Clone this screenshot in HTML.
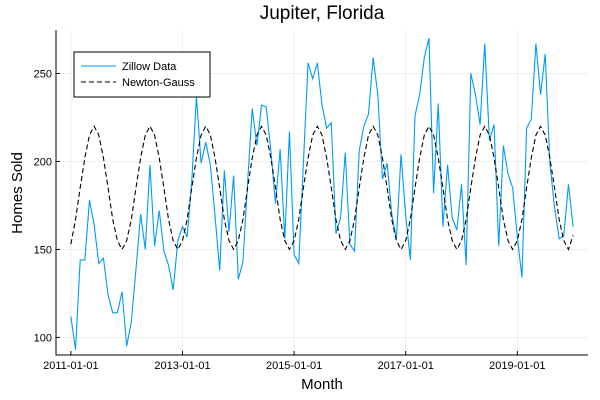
<!DOCTYPE html>
<html><head><meta charset="utf-8"><style>
body{margin:0;background:#fff;}
svg{display:block;font-family:"Liberation Sans",sans-serif;}
</style></head><body>
<svg id="chart" width="600" height="400"></svg>
<script>
const xTickLabels=["2011-01-01","2013-01-01","2015-01-01","2017-01-01","2019-01-01"];
const xTickMonths=[0,24,48,72,96];
const yTicks=[100,150,200,250];
const zillow=[112,93,144,144,178,164,142,145,124,114,114,126,95,109,139,170,150,198,152,172,149,141,127,155,163,157,189,237,199,211,198,169,138,195,160,192,
133,143,188,230,209,232,231,206,176,207,156,217,147,142,199,256,247,256,232,219,222,159,168,205,153,149,206,220,227,259,238,190,199,170,156,204,
169,144,226,238,259,270,182,233,163,198,168,161,187,141,250,238,221,267,212,221,152,209,193,185,157,134,219,224,267,238,261,199,174,156,158,187,163];
const fit=[153,167,185,202,215,220,215,202,185,167,155,150,
155,167,185,202,215,220,215,202,185,167,155,150,
155,167,185,202,215,220,215,202,185,167,155,150,
155,167,185,202,215,220,215,202,185,167,155,150,
155,167,185,202,215,220,215,202,185,167,155,150,
155,167,185,202,215,220,215,202,185,167,155,150,
155,167,185,202,215,220,215,202,185,167,155,150,
155,167,185,202,215,220,215,202,185,167,155,150,
155,167,185,202,215,220,215,202,185,167,155,150,158];
const L=56,R=588,T=30,B=355;
const xMin=-3.2,xMax=111.2,yMin=90,yMax=274.7;
const sx=m=>L+(m-xMin)/(xMax-xMin)*(R-L);
const sy=v=>B-(v-yMin)/(yMax-yMin)*(B-T);
const NS="http://www.w3.org/2000/svg";
const svg=document.getElementById('chart');
function mk(tag,attrs,parent){const e=document.createElementNS(NS,tag);for(const k in attrs)e.setAttribute(k,attrs[k]);(parent||svg).appendChild(e);return e;}
xTickMonths.forEach((m,i)=>{
 const g=mk('line',{x1:sx(m),x2:sx(m),y1:T,y2:B,stroke:'#000','stroke-opacity':0.1,'stroke-width':0.6});
 
 
 const t=mk('line',{x1:sx(m),x2:sx(m),y1:B,y2:B-4,stroke:'#000','stroke-width':1});
 
 
 const lb=mk('text',{x:sx(m),y:B+14,'text-anchor':'middle','font-size':11,fill:'#000'});
 lb.textContent=xTickLabels[i];
 
 
});
yTicks.forEach(v=>{
 const g=mk('line',{x1:L,x2:R,y1:sy(v),y2:sy(v),stroke:'#000','stroke-opacity':0.1,'stroke-width':0.6});
 
 
 const t=mk('line',{x1:L,x2:L+4,y1:sy(v),y2:sy(v),stroke:'#000','stroke-width':1});
 
 
 const lb=mk('text',{x:L-4,y:sy(v)+4,'text-anchor':'end','font-size':11,fill:'#000'});
 lb.textContent=v;
 
 
});
const ax=mk('path',{d:`M${L},${T} L${L},${B} L${R},${B}`,fill:'none',stroke:'#000','stroke-width':1});


const zl=mk('polyline',{points:zillow.map((v,i)=>sx(i)+','+sy(v)).join(' '),fill:'none',stroke:'#009af9','stroke-width':1.1});


const fl=mk('polyline',{points:fit.map((v,i)=>sx(i)+','+sy(v)).join(' '),fill:'none',stroke:'#000','stroke-width':1.1,'stroke-dasharray':'5,3'});


const ti=mk('text',{x:322,y:19,'text-anchor':'middle','font-size':19,fill:'#000'});ti.textContent='Jupiter, Florida';


const xl=mk('text',{x:322,y:389,'text-anchor':'middle','font-size':15,fill:'#000'});xl.textContent='Month';


const yl=mk('text',{x:0,y:0,'text-anchor':'middle','font-size':15,fill:'#000',transform:'translate(22,193) rotate(-90)'});yl.textContent='Homes Sold';


const lg=mk('g',{});


mk('rect',{x:74,y:52,width:136,height:45,fill:'#fff',stroke:'#000','stroke-width':1},lg);
const e1=mk('g',{},lg);


mk('line',{x1:81,x2:116,y1:66,y2:66,stroke:'#009af9','stroke-width':1.1},e1);
const t1=mk('text',{x:122,y:70,'font-size':11,fill:'#000'},e1);t1.textContent='Zillow Data';
const e2=mk('g',{},lg);


mk('line',{x1:81,x2:116,y1:82,y2:82,stroke:'#000','stroke-width':1.1,'stroke-dasharray':'5,3'},e2);
const t2=mk('text',{x:122,y:86,'font-size':11,fill:'#000'},e2);t2.textContent='Newton-Gauss';
</script>
</body></html>
